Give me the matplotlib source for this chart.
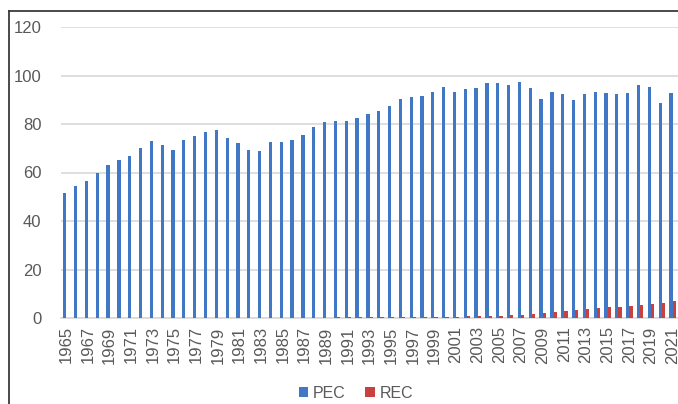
import matplotlib.pyplot as plt
import numpy as np
from matplotlib.lines import Line2D

plt.rcParams['font.family'] = ['Liberation Sans', 'DejaVu Sans']

years = list(range(1965, 2022))
pec = [51.5, 54.5, 56.3, 59.9, 62.9, 65.2, 66.8, 70.2, 72.9, 71.2,
       69.4, 73.3, 75.1, 76.7, 77.5, 74.4, 72.0, 69.4, 69.0, 72.5,
       72.5, 73.3, 75.5, 78.9, 80.9, 81.3, 81.3, 82.4, 84.0, 85.4,
       87.3, 90.4, 91.2, 91.5, 93.4, 95.3, 93.1, 94.5, 94.9, 96.8,
       96.8, 96.1, 97.2, 94.9, 90.4, 93.4, 92.3, 89.9, 92.3, 93.4,
       92.7, 92.3, 92.7, 96.1, 95.3, 88.6, 92.7]
rec = [0] * 25 + [0.5, 0.5, 0.6, 0.6, 0.6, 0.6, 0.6, 0.6, 0.6, 0.6,
                  0.6, 0.6, 0.7, 0.8, 1.0, 1.0, 1.4, 1.4, 1.8, 2.1,
                  2.5, 2.9, 3.3, 3.7, 4.1, 4.4, 4.7, 5.1, 5.5, 5.9,
                  6.3, 7.0]
tick_years = years[::2]

blue = '#4178C5'
red = '#C9413E'
grey = '#595959'

fig = plt.figure(figsize=(6.78, 4.04), dpi=100)
ax = fig.add_axes([61 / 678, (404 - 318) / 404, 617 / 678, 291 / 404])

x = np.arange(len(years))
bw = 0.3
ax.bar(x - bw / 2, pec, bw, color=blue, label='PEC', zorder=3)
ax.bar(x + bw / 2, rec, bw, color=red, label='REC', zorder=3)

ax.set_xlim(-0.5, len(years) - 0.5)
ax.set_ylim(0, 120)
ax.set_yticks(range(0, 121, 20))
ax.yaxis.grid(True, color='#d9d9d9', linewidth=1.2, zorder=0)
ax.set_xticks([years.index(y) for y in tick_years])
ax.set_xticklabels([str(y) for y in tick_years], rotation=90)
ax.tick_params(axis='both', length=0, labelsize=12, colors=grey)
ax.tick_params(axis='x', pad=6)
ax.tick_params(axis='y', pad=14)
for s in ['top', 'right', 'left']:
    ax.spines[s].set_visible(False)
ax.spines['bottom'].set_color('#d9d9d9')
ax.spines['bottom'].set_linewidth(1.2)

fig.legend(loc='center', bbox_to_anchor=(356 / 678, 1 - 393 / 404), ncol=2,
           frameon=False, fontsize=11.5, labelcolor=grey, handlelength=0.6,
           handleheight=0.6, handletextpad=0.3, columnspacing=1.2)

# chart frame (cropped at right and bottom)
fig.add_artist(Line2D([9 / 678, 9 / 678], [0, 1 - 11 / 404], color='#3a3a3a',
                      linewidth=1.3, transform=fig.transFigure))
fig.add_artist(Line2D([9 / 678, 1], [1 - 11 / 404, 1 - 11 / 404], color='#3a3a3a',
                      linewidth=1.3, transform=fig.transFigure))

fig.savefig('out.png', dpi=100)
